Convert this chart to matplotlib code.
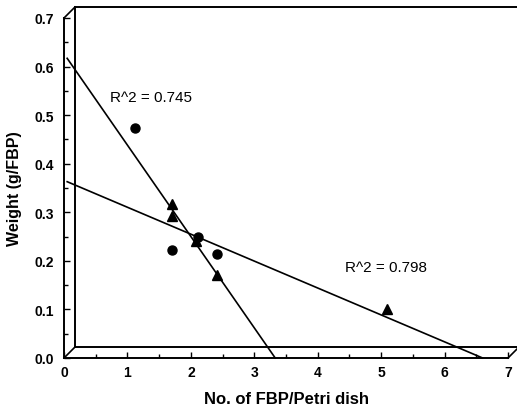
import matplotlib
matplotlib.use("Agg")
import matplotlib.pyplot as plt
import matplotlib.transforms as mtransforms
from matplotlib.ticker import MultipleLocator

plt.rcParams["font.family"] = ["Liberation Sans", "DejaVu Sans"]

# Data
circle_x = [1.12, 1.70, 2.11, 2.41]
circle_y = [0.474, 0.223, 0.250, 0.214]
triangle_x = [1.70, 1.70, 2.08, 2.41, 5.09]
triangle_y = [0.318, 0.293, 0.240, 0.171, 0.100]

# Regression lines: (x start, y start), (x end, y end)
fit1_x = [0.05, 3.33]
fit1_y = [0.617, 0.0]
fit2_x = [0.05, 6.60]
fit2_y = [0.363, 0.0]

label1 = "R^2 = 0.745"
label2 = "R^2 = 0.798"

fig = plt.figure(figsize=(5.17, 4.10), dpi=100)
ax = fig.add_axes([64 / 517, 51 / 410, 444 / 517, 340 / 410])
ax.set_xlim(0, 7)
ax.set_ylim(0, 0.7)

for side in ("top", "right"):
    ax.spines[side].set_visible(False)
for side in ("left", "bottom"):
    ax.spines[side].set_linewidth(1.4)

ax.xaxis.set_major_locator(MultipleLocator(1))
ax.xaxis.set_minor_locator(MultipleLocator(0.5))
ax.yaxis.set_major_locator(MultipleLocator(0.1))
ax.yaxis.set_minor_locator(MultipleLocator(0.05))
ax.set_yticks([0.0, 0.1, 0.2, 0.3, 0.4, 0.5, 0.6, 0.7])
ax.set_yticklabels(["0.0", "0.1", "0.2", "0.3", "0.4", "0.5", "0.6", "0.7"])
ax.tick_params(which="both", direction="in", width=1.0, labelsize=10)
ax.tick_params(which="major", length=4)
ax.tick_params(which="minor", length=3)
ax.tick_params(axis="x", pad=5)
ax.tick_params(axis="y", pad=7)
for lbl in ax.get_xticklabels() + ax.get_yticklabels():
    lbl.set_fontweight("bold")

# back wall of the pseudo-3D frame, shifted up and right
back = ax.transData + mtransforms.ScaledTranslation(0.11, 0.11, fig.dpi_scale_trans)
frame_kw = dict(color="black", lw=1.4, clip_on=False)
ax.plot([0, 0], [0, 0.7], transform=back, **frame_kw)
ax.plot([0, 7.1], [0.7, 0.7], transform=back, **frame_kw)
ax.plot([0, 7.1], [0, 0], transform=back, **frame_kw)
for x0, y0 in [(0, 0), (0, 0.7), (7, 0)]:
    xa, ya = ax.transData.transform((x0, y0))
    xb, yb = back.transform((x0, y0))
    fig.add_artist(plt.Line2D([xa / fig.bbox.width, xb / fig.bbox.width],
                              [ya / fig.bbox.height, yb / fig.bbox.height],
                              color="black", lw=1.2))

ax.plot(fit1_x, fit1_y, color="black", lw=1.2, clip_on=False)
ax.plot(fit2_x, fit2_y, color="black", lw=1.2, clip_on=False)
ax.plot(circle_x, circle_y, "o", color="black", ms=6.5, clip_on=False)
ax.plot(triangle_x, triangle_y, "^", color="black", ms=7.5, clip_on=False)

ax.text(0.73, 0.538, label1, fontsize=11, va="center", ha="left")
ax.text(4.43, 0.188, label2, fontsize=11, va="center", ha="left")

ax.set_xlabel("No. of FBP/Petri dish", fontsize=12, fontweight="bold", labelpad=9)
ax.set_ylabel("Weight (g/FBP)", fontsize=11.5, fontweight="bold", labelpad=9)

fig.savefig("out.png", dpi=100)
